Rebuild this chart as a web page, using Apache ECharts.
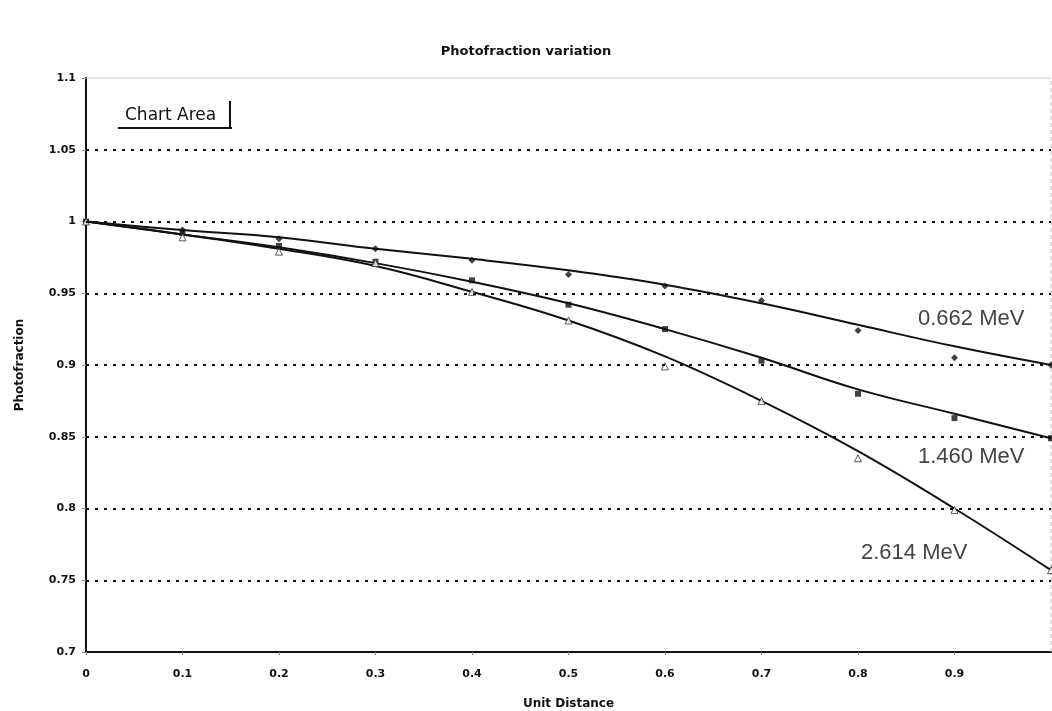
<!DOCTYPE html>
<html>
<head>
<meta charset="utf-8">
<script src="https://cdn.jsdelivr.net/npm/echarts@6/dist/echarts.min.js"></script>
<style>
html,body{margin:0;padding:0;background:#fff;}
#main{width:1052px;height:711px;}
</style>
</head>
<body>
<div id="main"></div>
<script>
var distances = [0, 0.1, 0.2, 0.3, 0.4, 0.5, 0.6, 0.7, 0.8, 0.9, 1.0];
// measured points
var pts662  = [1.0, 0.994, 0.988, 0.981, 0.973, 0.963, 0.955, 0.945, 0.924, 0.905, 0.900];
var pts1460 = [1.0, 0.992, 0.983, 0.972, 0.959, 0.942, 0.925, 0.903, 0.880, 0.863, 0.849];
var pts2614 = [1.0, 0.989, 0.979, 0.971, 0.951, 0.931, 0.899, 0.875, 0.835, 0.799, 0.757];
// trend lines
var trend662  = [1.0, 0.994, 0.989, 0.981, 0.974, 0.966, 0.956, 0.943, 0.928, 0.913, 0.900];
var trend1460 = [1.0, 0.991, 0.982, 0.971, 0.958, 0.943, 0.925, 0.905, 0.883, 0.866, 0.849];
var trend2614 = [1.0, 0.991, 0.981, 0.969, 0.951, 0.931, 0.906, 0.875, 0.840, 0.800, 0.757];
var seriesNames = ['0.662 MeV', '1.460 MeV', '2.614 MeV'];
var gridValues = [0.75, 0.8, 0.85, 0.9, 0.95, 1.0, 1.05];

function pairs(ys){ return distances.map(function(x,i){ return [x, ys[i]]; }); }
function fmt(v){ return String(parseFloat(v.toFixed(2))); }

var chart = echarts.init(document.getElementById('main'));
var lineStyle = {color:'#111', width:2};
var boldFont = 'DejaVu Sans';
var option = {
  backgroundColor:'#fff',
  animation:false,
  title:{
    text:'Photofraction variation', left:'center', top:40,
    textStyle:{fontFamily:boldFont, fontSize:13, fontWeight:'bold', color:'#111'}
  },
  grid:{left:86, right:1, top:78, bottom:59, containLabel:false, outerBoundsMode:'none'},
  xAxis:{
    type:'value', min:0, max:1, interval:0.1,
    name:'Unit Distance', nameLocation:'middle', nameGap:46,
    nameTextStyle:{fontFamily:boldFont, fontSize:12, fontWeight:'bold', color:'#111'},
    axisLine:{show:true, onZero:false, lineStyle:{color:'#111', width:2}},
    axisTick:{show:true, length:3, lineStyle:{color:'#888'}},
    axisLabel:{showMaxLabel:false, margin:17, fontFamily:boldFont, fontSize:11, fontWeight:'bold', color:'#111', formatter:fmt},
    splitLine:{show:false}
  },
  yAxis:{
    type:'value', min:0.7, max:1.1, interval:0.05,
    name:'Photofraction', nameLocation:'middle', nameGap:60, nameRotate:90,
    nameTextStyle:{fontFamily:boldFont, fontSize:12, fontWeight:'bold', color:'#111'},
    axisLine:{show:true, onZero:false, lineStyle:{color:'#111', width:2}},
    axisTick:{show:true, length:4, lineStyle:{color:'#999'}},
    axisLabel:{margin:10, fontFamily:boldFont, fontSize:11, fontWeight:'bold', color:'#111', formatter:fmt},
    splitLine:{show:false}
  },
  series:[
    {name:'grid', type:'line', data:[], silent:true,
      markLine:{silent:true, symbol:'none', label:{show:false},
        lineStyle:{color:'#111', width:2, type:[3,6]},
        data:gridValues.map(function(v){ return {yAxis:v}; })}},
    {name:seriesNames[0]+' trend', type:'line', data:pairs(trend662), smooth:0.4, showSymbol:false, lineStyle:lineStyle, z:3},
    {name:seriesNames[1]+' trend', type:'line', data:pairs(trend1460), smooth:0.4, showSymbol:false, lineStyle:lineStyle, z:3},
    {name:seriesNames[2]+' trend', type:'line', data:pairs(trend2614), smooth:0.4, showSymbol:false, lineStyle:lineStyle, z:3},
    {name:seriesNames[0], type:'scatter', data:pairs(pts662), symbol:'diamond', symbolSize:7, itemStyle:{color:'#111'}, z:4},
    {name:seriesNames[1], type:'scatter', data:pairs(pts1460), symbol:'rect', symbolSize:6, itemStyle:{color:'#111'}, z:4},
    {name:seriesNames[2], type:'scatter', data:pairs(pts2614), symbol:'triangle', symbolSize:7, itemStyle:{color:'#fff', borderColor:'#333', borderWidth:1}, z:4},
    {type:'line', data:[[0,1.1],[1,1.1]], showSymbol:false, silent:true, lineStyle:{color:'#bbb', width:1}, z:2},
    {type:'line', data:[[1,0.7],[1,1.1]], showSymbol:false, silent:true, lineStyle:{color:'#bbb', width:1, type:[4,3]}, z:2}
  ],
  graphic:[
    {type:'text', x:125, y:116, style:{text:'Chart Area', fontFamily:'DejaVu Sans', fontSize:17, fill:'#111', verticalAlign:'middle'}},
    {type:'line', shape:{x1:118, y1:128, x2:232, y2:128}, style:{stroke:'#111', lineWidth:2}},
    {type:'line', shape:{x1:230, y1:101, x2:230, y2:128}, style:{stroke:'#111', lineWidth:2}},
    {type:'text', x:918, y:319, style:{text:seriesNames[0], fontFamily:'Liberation Sans, Arial', fontSize:22, fill:'#444', verticalAlign:'middle'}},
    {type:'text', x:918, y:457, style:{text:seriesNames[1], fontFamily:'Liberation Sans, Arial', fontSize:22, fill:'#444', verticalAlign:'middle'}},
    {type:'text', x:861, y:553, style:{text:seriesNames[2], fontFamily:'Liberation Sans, Arial', fontSize:22, fill:'#444', verticalAlign:'middle'}}
  ]
};
chart.setOption(option);
</script>
</body>
</html>
